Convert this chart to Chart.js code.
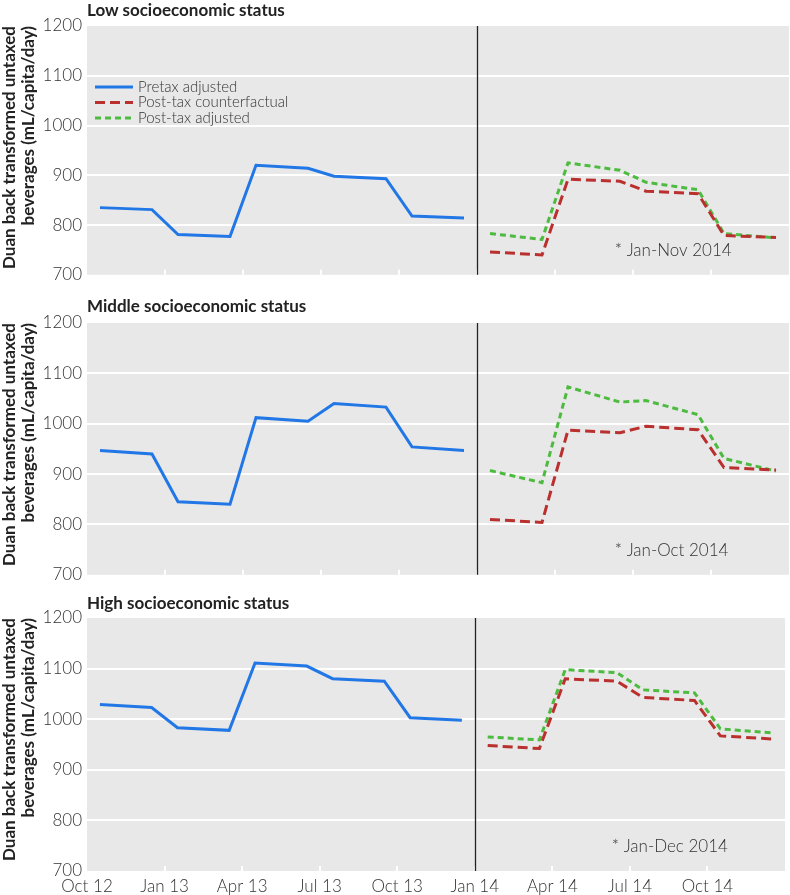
<!DOCTYPE html>
<html>
<head>
<meta charset="utf-8">
<script src="https://cdn.jsdelivr.net/npm/chart.js@4.4.1/dist/chart.umd.min.js"></script>
<style>
  body { margin: 0; background: #fff; font-family: Lato, sans-serif; }
  #wrap { position: relative; width: 790px; height: 895px; }
  canvas { position: absolute; left: 0; }
  .ttl { position: absolute; left: 87px; font: bold 17px Lato, sans-serif; color: #222; line-height: 20px; z-index: 2; }
</style>
</head>
<body>
<div id="wrap">
  <canvas id="low" width="790" height="290" style="top:0px"></canvas>
  <canvas id="mid" width="790" height="300" style="top:290px"></canvas>
  <canvas id="high" width="790" height="305" style="top:590px"></canvas>
  <div class="ttl" style="top:0px">Low socioeconomic status</div>
  <div class="ttl" style="top:296px">Middle socioeconomic status</div>
  <div class="ttl" style="top:593px">High socioeconomic status</div>
</div>
<script>
// x positions in months since Oct 2012
const tickLabels = ['Oct 12', 'Jan 13', 'Apr 13', 'Jul 13', 'Oct 13', 'Jan 14', 'Apr 14', 'Jul 14', 'Oct 14', ''];
const preX = [0.5, 2.5, 3.5, 5.5, 6.5, 8.5, 9.5, 11.5, 12.5, 14.5];
const postX = [15.5, 17.5, 18.5, 20.5, 21.5, 23.5, 24.5, 26.5];

const lowPre = [835, 831, 781, 777, 920, 914, 898, 893, 818, 814];
const lowCounter = [746, 740, 892, 888, 868, 863, 779, 775];
const lowPost = [783, 771, 925, 910, 886, 871, 783, 774];

const midPre = [947, 940, 845, 840, 1012, 1005, 1040, 1033, 954, 947];
const midCounter = [810, 804, 987, 982, 995, 988, 913, 908];
const midPost = [907, 883, 1073, 1043, 1046, 1018, 931, 906];

const highPre = [1029, 1023, 983, 978, 1111, 1105, 1080, 1075, 1003, 998];
const highCounter = [948, 942, 1080, 1075, 1043, 1037, 967, 961];
const highPost = [965, 959, 1098, 1092, 1058, 1052, 981, 973];

const seriesNames = ['Pretax adjusted', 'Post-tax counterfactual', 'Post-tax adjusted'];
const taxStart = 15; // Jan 14

const BLUE = '#2277e6', RED = '#b9302e', GREEN = '#4dbb3f';

function pts(xs, ys) {
    return xs.map((x, i) => ({x: x, y: ys[i]}));
}

const panelPlugin = {
    id: 'panel',
    beforeDraw(chart) {
        const a = chart.chartArea, ctx = chart.ctx;
        ctx.save();
        ctx.fillStyle = '#e8e8e8';
        ctx.fillRect(a.left, a.top, a.right - a.left, a.bottom - a.top);
        ctx.restore();
    },
    afterDraw(chart, args, opts) {
        const a = chart.chartArea, ctx = chart.ctx, xs = chart.scales.x;
        ctx.save();
        // small white ticks at bottom
        ctx.strokeStyle = '#fff';
        ctx.lineWidth = 2;
        for (let v = 3; v < 27; v += 3) {
            const px = Math.round(xs.getPixelForValue(v));
            ctx.beginPath();
            ctx.moveTo(px, a.bottom);
            ctx.lineTo(px, a.bottom - 5);
            ctx.stroke();
        }
        // tax line
        const lx = Math.round(xs.getPixelForValue(taxStart)) + 0.5;
        ctx.strokeStyle = '#222';
        ctx.lineWidth = 1.3;
        ctx.beginPath();
        ctx.moveTo(lx, a.top);
        ctx.lineTo(lx, a.bottom);
        ctx.stroke();
        // note
        ctx.fillStyle = '#333';
        ctx.font = '300 17px Lato, sans-serif';
        ctx.textBaseline = 'middle';
        ctx.fillText(opts.note, xs.getPixelForValue(20.3), a.bottom - 24);
        // legend (first panel only)
        if (opts.legend) {
            ctx.font = '300 15px Lato, sans-serif';
            chart.data.datasets.forEach((ds, i) => {
                const y = a.top + 61 + i * 15.5;
                ctx.strokeStyle = ds.borderColor;
                ctx.lineWidth = 3;
                ctx.setLineDash(ds.borderDash || []);
                ctx.beginPath();
                ctx.moveTo(a.left + 8, y);
                ctx.lineTo(a.left + 46, y);
                ctx.stroke();
                ctx.setLineDash([]);
                ctx.fillStyle = '#333';
                ctx.fillText(ds.label, a.left + 51, y);
            });
        }
        ctx.restore();
    }
};

function makePanel(id, pre, counter, post, note, pad, showX, legend) {
    new Chart(document.getElementById(id), {
        type: 'line',
        data: {
            datasets: [
                {label: seriesNames[0], data: pts(preX, pre), borderColor: BLUE, borderWidth: 3},
                {label: seriesNames[1], data: pts(postX, counter), borderColor: RED, borderWidth: 3, borderDash: [10, 5]},
                {label: seriesNames[2], data: pts(postX, post), borderColor: GREEN, borderWidth: 3, borderDash: [6, 4]}
            ]
        },
        options: {
            responsive: false,
            animation: false,
            layout: {padding: {top: pad[0], bottom: pad[1], left: 0, right: 1}},
            elements: {point: {radius: 0}, line: {tension: 0, fill: false}},
            plugins: {
                legend: {display: false},
                tooltip: {enabled: false},
                panel: {note: note, legend: legend}
            },
            scales: {
                x: {
                    type: 'linear',
                    min: 0,
                    max: 27,
                    grid: {display: false, drawTicks: false},
                    border: {display: false},
                    ticks: {
                        display: showX,
                        stepSize: 3,
                        autoSkip: false,
                        maxRotation: 0,
                        padding: 5,
                        color: '#333',
                        font: {family: 'Lato', size: 17, weight: '300'},
                        callback: (v) => tickLabels[v / 3] || ''
                    },
                    afterFit: (s) => { s.height = showX ? 24 : 0; }
                },
                y: {
                    min: 700,
                    max: 1200,
                    grid: {
                        color: (c) => (c.tick && (c.tick.value === 700 || c.tick.value === 1200)) ? 'rgba(0,0,0,0)' : '#fff',
                        lineWidth: 2,
                        drawTicks: false
                    },
                    border: {display: false},
                    ticks: {
                        stepSize: 100,
                        padding: 5,
                        color: '#333',
                        font: {family: 'Lato', size: 17, weight: '300'},
                        callback: (v) => String(v)
                    },
                    title: {
                        display: true,
                        text: ['Duan back transformed untaxed', 'beverages (mL/capita/day)'],
                        align: 'end',
                        color: '#222',
                        padding: {top: 0, bottom: 0},
                        font: {family: 'Lato', size: 17, weight: 'bold', lineHeight: 1.12}
                    },
                    afterFit: (s) => { s.width = 87; }
                }
            }
        },
        plugins: [panelPlugin]
    });
}

makePanel('low', lowPre, lowCounter, lowPost, '* Jan-Nov 2014', [26, 12], false, true);
makePanel('mid', midPre, midCounter, midPost, '* Jan-Oct 2014', [33, 15], false, false);
makePanel('high', highPre, highCounter, highPost, '* Jan-Dec 2014', [28, 0], true, false);
</script>
</body>
</html>
